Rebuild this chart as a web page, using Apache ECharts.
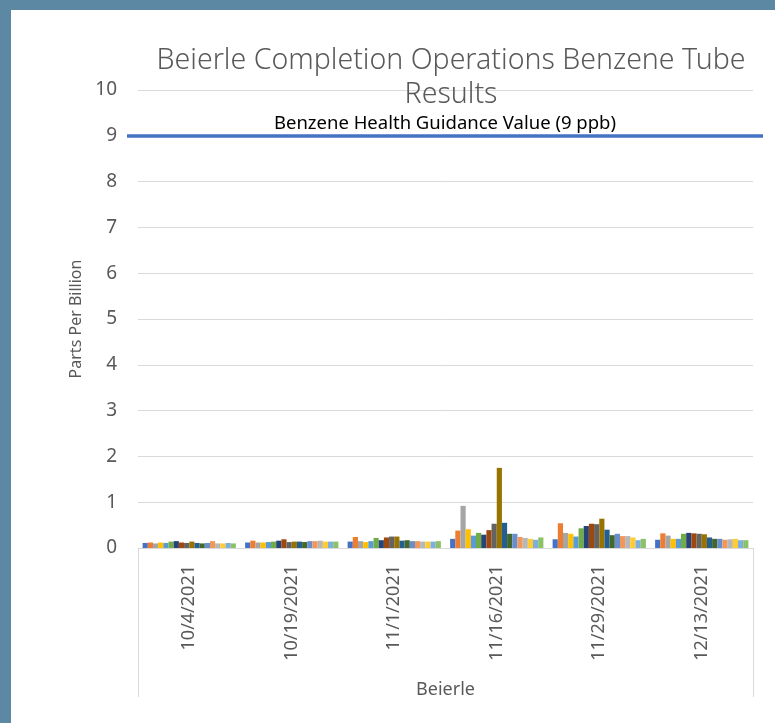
<!DOCTYPE html>
<html>
<head>
<meta charset="utf-8">
<script src="https://cdn.jsdelivr.net/npm/echarts@6/dist/echarts.min.js"></script>
<style>
  html, body { margin: 0; padding: 0; background: #fff; }
  #chart { position: absolute; left: 0; top: 0; width: 775px; height: 723px; }
  .frame { position: absolute; background: #5d88a4; }
</style>
</head>
<body>
<div id="chart"></div>
<div class="frame" style="left:0;top:0;width:775px;height:10px"></div>
<div class="frame" style="left:0;top:0;width:11px;height:723px"></div>
<script>
const dates = ['10/4/2021', '10/19/2021', '11/1/2021', '11/16/2021', '11/29/2021', '12/13/2021']
const siteLabel = ['Beierle']
const yTicks = [0, 1, 2, 3, 4, 5, 6, 7, 8, 9, 10]
const guidanceValue = 9
const guidanceLabel = 'Benzene Health Guidance Value (9 ppb)'

const sampleNames = [
  'Sample 1', 'Sample 2', 'Sample 3', 'Sample 4', 'Sample 5', 'Sample 6',
  'Sample 7', 'Sample 8', 'Sample 9', 'Sample 10', 'Sample 11', 'Sample 12',
  'Sample 13', 'Sample 14', 'Sample 15', 'Sample 16', 'Sample 17', 'Sample 18'
]

// one row per sample, one value per date (ppb)
const s1 = [0.11, 0.12, 0.14, 0.20, 0.19, 0.18]
const s2 = [0.12, 0.16, 0.24, 0.38, 0.54, 0.32]
const s3 = [0.10, 0.12, 0.15, 0.92, 0.33, 0.27]
const s4 = [0.12, 0.12, 0.13, 0.41, 0.31, 0.20]
const s5 = [0.11, 0.13, 0.15, 0.27, 0.25, 0.20]
const s6 = [0.14, 0.14, 0.22, 0.33, 0.43, 0.31]
const s7 = [0.15, 0.16, 0.17, 0.29, 0.48, 0.33]
const s8 = [0.12, 0.19, 0.23, 0.39, 0.53, 0.32]
const s9 = [0.11, 0.13, 0.25, 0.53, 0.52, 0.31]
const s10 = [0.14, 0.14, 0.25, 1.75, 0.64, 0.30]
const s11 = [0.11, 0.14, 0.16, 0.55, 0.40, 0.23]
const s12 = [0.10, 0.13, 0.17, 0.31, 0.28, 0.20]
const s13 = [0.11, 0.15, 0.15, 0.31, 0.31, 0.20]
const s14 = [0.15, 0.15, 0.15, 0.24, 0.26, 0.18]
const s15 = [0.10, 0.16, 0.14, 0.22, 0.26, 0.19]
const s16 = [0.10, 0.14, 0.14, 0.20, 0.23, 0.20]
const s17 = [0.11, 0.14, 0.14, 0.18, 0.17, 0.17]
const s18 = [0.10, 0.14, 0.15, 0.23, 0.20, 0.17]
const sampleValues = [s1, s2, s3, s4, s5, s6, s7, s8, s9, s10, s11, s12, s13, s14, s15, s16, s17, s18]

const palette = [
  '#4472C4', '#ED7D31', '#A5A5A5', '#FFC000', '#5B9BD5', '#70AD47',
  '#264478', '#9E480E', '#636363', '#997300', '#255E91', '#43682B',
  '#698ED0', '#F1975A', '#B7B7B7', '#FFCD33', '#7CAFDD', '#8CC168'
]

const textColor = '#595959'
const gridColor = '#d9d9d9'
const font = 'Noto Sans'

const chart = echarts.init(document.getElementById('chart'))

const barSeries = sampleNames.map((name, i) => ({
  name,
  type: 'bar',
  xAxisIndex: 0,
  yAxisIndex: 0,
  data: sampleValues[i],
  barGap: '0%',
  barCategoryGap: '9%',
  itemStyle: { color: palette[i] }
}))

const option = {
  animation: false,
  backgroundColor: '#fff',
  textStyle: { fontFamily: font },
  title: {
    text: 'Beierle Completion Operations Benzene Tube\nResults',
    left: 446,
    top: 39,
    textAlign: 'center',
    textStyle: {
      fontFamily: font,
      fontSize: 28.5,
      fontWeight: 300,
      color: textColor,
      lineHeight: 34
    }
  },
  grid: [
    { left: 138, right: 22, top: 90, bottom: 175 },
    { left: 127, right: 12, top: 90, bottom: 175 }
  ],
  xAxis: [
    {
      type: 'category',
      gridIndex: 0,
      data: dates,
      axisLine: { lineStyle: { color: gridColor } },
      axisTick: { show: false },
      axisLabel: { rotate: 90, margin: 17, fontSize: 18, color: textColor, fontFamily: font }
    },
    {
      type: 'category',
      gridIndex: 0,
      position: 'bottom',
      data: siteLabel,
      axisLine: { show: false },
      axisTick: { show: true, length: 149, alignWithLabel: false, lineStyle: { color: gridColor } },
      axisLabel: { margin: 133, fontSize: 18, color: textColor, fontFamily: font }
    },
    {
      type: 'value',
      gridIndex: 1,
      min: 0,
      max: 1,
      show: false
    }
  ],
  yAxis: [
    {
      type: 'value',
      gridIndex: 0,
      min: yTicks[0],
      max: yTicks[yTicks.length - 1],
      interval: 1,
      name: 'Parts Per Billion',
      nameLocation: 'middle',
      nameGap: 51,
      nameTextStyle: { fontSize: 16, color: textColor, fontFamily: font },
      axisLine: { show: false },
      axisTick: { show: false },
      axisLabel: { margin: 21, fontSize: 19, color: textColor, fontFamily: font },
      splitLine: { lineStyle: { color: gridColor, width: 1 } }
    },
    {
      type: 'value',
      gridIndex: 1,
      min: yTicks[0],
      max: yTicks[yTicks.length - 1],
      show: false
    }
  ],
  series: [
    ...barSeries,
    {
      name: 'Guidance',
      type: 'line',
      xAxisIndex: 2,
      yAxisIndex: 1,
      data: [],
      silent: true,
      markLine: {
        silent: true,
        symbol: 'none',
        data: [{ yAxis: guidanceValue }],
        lineStyle: { color: '#4472C4', width: 3.5, type: 'solid' },
        label: {
          show: true,
          position: 'insideMiddleTop',
          formatter: guidanceLabel,
          distance: 3,
          color: '#000',
          fontSize: 18.5,
          fontFamily: font
        }
      }
    }
  ]
}

chart.setOption(option)
</script>
</body>
</html>
